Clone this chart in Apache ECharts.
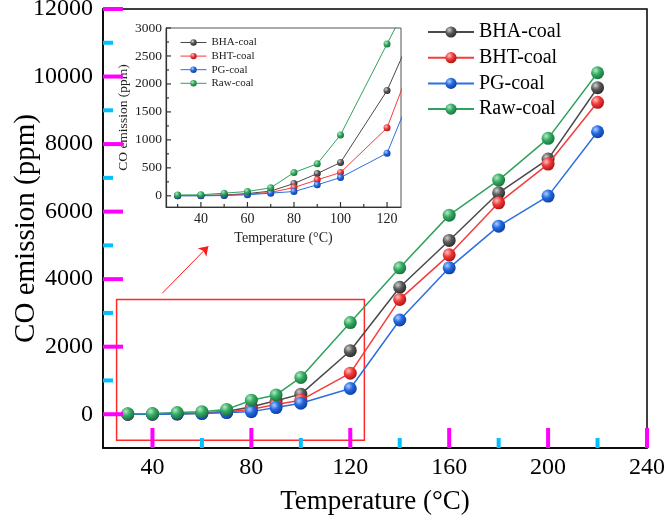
<!DOCTYPE html>
<html>
<head>
<meta charset="utf-8">
<script src="https://cdn.jsdelivr.net/npm/echarts@6/dist/echarts.min.js"></script>
<style>
  html, body { margin: 0; padding: 0; background: #fff; }
  #main { width: 666px; height: 523px; }
</style>
</head>
<body>
<div id="main"></div>
<script>
// temperatures (°C) and CO emission (ppm)
var temps = [30, 40, 50, 60, 70, 80, 90, 100, 120, 140, 160, 180, 200, 220];
var bhaCoal = [5, 5, 15, 40, 84, 220, 398, 595, 1881, 3760, 5147, 6557, 7556, 9669];
var bhtCoal = [3, 4, 12, 30, 60, 148, 286, 416, 1215, 3400, 4720, 6261, 7408, 9236];
var pgCoal  = [0, 0, 5, 18, 48, 77, 196, 327, 762, 2790, 4335, 5570, 6459, 8365];
var rawCoal = [15, 18, 48, 77, 143, 416, 571, 1089, 2714, 4335, 5896, 6933, 8169, 10113];

// tick values: labelled (major) and short (minor)
var mainXMajor = [40, 80, 120, 160, 200, 240];
var mainXMinor = [60, 100, 140, 180, 220];
var mainYMajor = [0, 2000, 4000, 6000, 8000, 10000, 12000];
var mainYMinor = [1000, 3000, 5000, 7000, 9000, 11000];
var insetXMajor = [40, 60, 80, 100, 120];
var insetXMinor = [30, 50, 70, 90, 110];
var insetYMajor = [0, 500, 1000, 1500, 2000, 2500, 3000];
var insetYMinor = [250, 750, 1250, 1750, 2250, 2750];

// zoom box and arrow in data units of the main axes
var zoomBox = [[25.5, -770], [125.7, 3400]];
var arrowLine = [[44, 3585], [62.6, 4978]];

var font = 'Liberation Serif';
var names = ['BHA-coal', 'BHT-coal', 'PG-coal', 'Raw-coal'];
var values = [bhaCoal, bhtCoal, pgCoal, rawCoal];
var lineColors = ['#4a4a4a', '#f53c3c', '#2d6fe0', '#2ea35e'];
var sphereColors = [
  ['#d0d0d0', '#5a5a5a', '#262626'],
  ['#ffc0c0', '#f03a3a', '#a80f0f'],
  ['#b0ccff', '#2169e0', '#0c3a98'],
  ['#b5e8c6', '#34ac62', '#156b36']
];

function sphere(c) {
  return new echarts.graphic.RadialGradient(0.35, 0.32, 0.75, [
    {offset: 0, color: c[0]},
    {offset: 0.45, color: c[1]},
    {offset: 1, color: c[2]}
  ]);
}

function pairs(vals) {
  return temps.map(function (t, i) { return [t, vals[i]]; });
}

function labelsOn(list) {
  return function (v) { return list.indexOf(v) >= 0 ? String(v) : ''; };
}

// inward ticks as a custom series (check run: drawn thick so they are easy to spot)
function tickSeries(xi, yi, dim, vals, base, len, color, width) {
  return {
    type: 'custom', xAxisIndex: xi, yAxisIndex: yi, silent: true, clip: false, z: 10,
    data: vals.map(function (v) { return dim === 'x' ? [v, base] : [base, v]; }),
    renderItem: function (params, api) {
      var p = api.coord([api.value(0), api.value(1)]);
      var shape = dim === 'x'
        ? {x1: p[0], y1: p[1], x2: p[0], y2: p[1] - len}
        : {x1: p[0], y1: p[1], x2: p[0] + len, y2: p[1]};
      return {type: 'line', shape: shape, style: {stroke: color, lineWidth: width}};
    }
  };
}

var chart = echarts.init(document.getElementById('main'), null, {renderer: 'canvas'});

var series = [];
names.forEach(function (n, i) {
  var s = {
    name: n, type: 'line', xAxisIndex: 0, yAxisIndex: 0,
    data: pairs(values[i]), symbol: 'circle', symbolSize: 13,
    lineStyle: {color: lineColors[i], width: 1.5},
    itemStyle: {color: sphere(sphereColors[i]), borderWidth: 0},
    z: 3 + i
  };
  if (i === 0) {
    s.markArea = {
      silent: true,
      itemStyle: {color: 'rgba(0,0,0,0)', borderColor: '#ff2a2a', borderWidth: 1.5},
      data: [[{coord: zoomBox[0]}, {coord: zoomBox[1]}]]
    };
    s.markLine = {
      silent: true, symbol: ['none', 'arrow'], symbolSize: 9, label: {show: false},
      lineStyle: {color: '#ff1a1a', width: 1, type: 'solid'},
      data: [[{coord: arrowLine[0]}, {coord: arrowLine[1]}]]
    };
  }
  series.push(s);
});
names.forEach(function (n, i) {
  series.push({
    name: n, type: 'line', xAxisIndex: 1, yAxisIndex: 1,
    data: pairs(values[i]), symbol: 'circle', symbolSize: 7, clip: true,
    lineStyle: {color: lineColors[i], width: 1},
    itemStyle: {color: sphere(sphereColors[i]), borderWidth: 0},
    z: 3 + i
  });
});
series.push(
  tickSeries(0, 0, 'x', mainXMajor, -1000, 20, '#ff00ff', 4),
  tickSeries(0, 0, 'x', mainXMinor, -1000, 10, '#00c0ff', 4),
  tickSeries(0, 0, 'y', mainYMajor, 20, 20, '#ff00ff', 4),
  tickSeries(0, 0, 'y', mainYMinor, 20, 10, '#00c0ff', 4),
  tickSeries(1, 1, 'x', insetXMajor, -200, 5, '#333', 1.2),
  tickSeries(1, 1, 'x', insetXMinor, -200, 3, '#333', 1.2),
  tickSeries(1, 1, 'y', insetYMajor, 25, 5, '#333', 1.2),
  tickSeries(1, 1, 'y', insetYMinor, 25, 3, '#333', 1.2)
);

var option = {
  animation: false,
  backgroundColor: '#fff',
  textStyle: {fontFamily: font},
  grid: [
    {left: 103, right: 19, top: 9, bottom: 75, containLabel: false, outerBoundsMode: 'none',
      show: true, borderColor: '#000', borderWidth: 1.5, backgroundColor: 'transparent'},
    {left: 166, right: 265, top: 28, bottom: 316, containLabel: false, outerBoundsMode: 'none',
      show: true, borderColor: '#555', borderWidth: 1, backgroundColor: 'transparent'}
  ],
  legend: [
    {data: names, orient: 'vertical', left: 422, top: 17, itemWidth: 46, itemHeight: 14, itemGap: 5.7,
      textStyle: {fontFamily: font, fontSize: 20, color: '#000'}},
    {data: names, orient: 'vertical', left: 175, top: 32, itemWidth: 26, itemHeight: 8, itemGap: 2.6,
      lineStyle: {width: 1}, textStyle: {fontFamily: font, fontSize: 11, color: '#222'}}
  ],
  xAxis: [
    {type: 'value', gridIndex: 0, min: 20, max: 240, interval: 20,
      name: 'Temperature (°C)', nameLocation: 'middle', nameGap: 40, nameMoveOverlap: false,
      nameTextStyle: {fontFamily: font, fontSize: 27, color: '#000'},
      axisLine: {show: true, onZero: false, lineStyle: {color: '#000', width: 1.5}},
      axisTick: {show: false},
      axisLabel: {formatter: labelsOn(mainXMajor), fontFamily: font, fontSize: 24, color: '#000', margin: 8},
      splitLine: {show: false}},
    {type: 'value', gridIndex: 1, min: 25, max: 126, interval: 5,
      name: 'Temperature (°C)', nameLocation: 'middle', nameGap: 24, nameMoveOverlap: false,
      nameTextStyle: {fontFamily: font, fontSize: 14, color: '#222'},
      axisLine: {show: true, onZero: false, lineStyle: {color: '#333', width: 1.2}},
      axisTick: {show: false},
      axisLabel: {formatter: labelsOn(insetXMajor), fontFamily: font, fontSize: 14, color: '#222', margin: 5},
      splitLine: {show: false}}
  ],
  yAxis: [
    {type: 'value', gridIndex: 0, min: -1000, max: 12000, interval: 1000,
      name: 'CO emission (ppm)', nameLocation: 'middle', nameGap: 62, nameMoveOverlap: false,
      nameTextStyle: {fontFamily: font, fontSize: 29, color: '#000'},
      axisLine: {show: true, onZero: false, lineStyle: {color: '#000', width: 1.5}},
      axisTick: {show: false},
      axisLabel: {formatter: labelsOn(mainYMajor), fontFamily: font, fontSize: 24, color: '#000', margin: 10},
      splitLine: {show: false}},
    {type: 'value', gridIndex: 1, min: -200, max: 3000, interval: 50,
      name: 'CO emission (ppm)', nameLocation: 'middle', nameGap: 36, nameMoveOverlap: false,
      nameTextStyle: {fontFamily: font, fontSize: 13.5, color: '#222'},
      axisLine: {show: true, onZero: false, lineStyle: {color: '#333', width: 1.2}},
      axisTick: {show: false},
      axisLabel: {formatter: labelsOn(insetYMajor), fontFamily: font, fontSize: 13.5, color: '#222', margin: 4},
      splitLine: {show: false}}
  ],
  series: series
};

chart.setOption(option);
</script>
</body>
</html>
